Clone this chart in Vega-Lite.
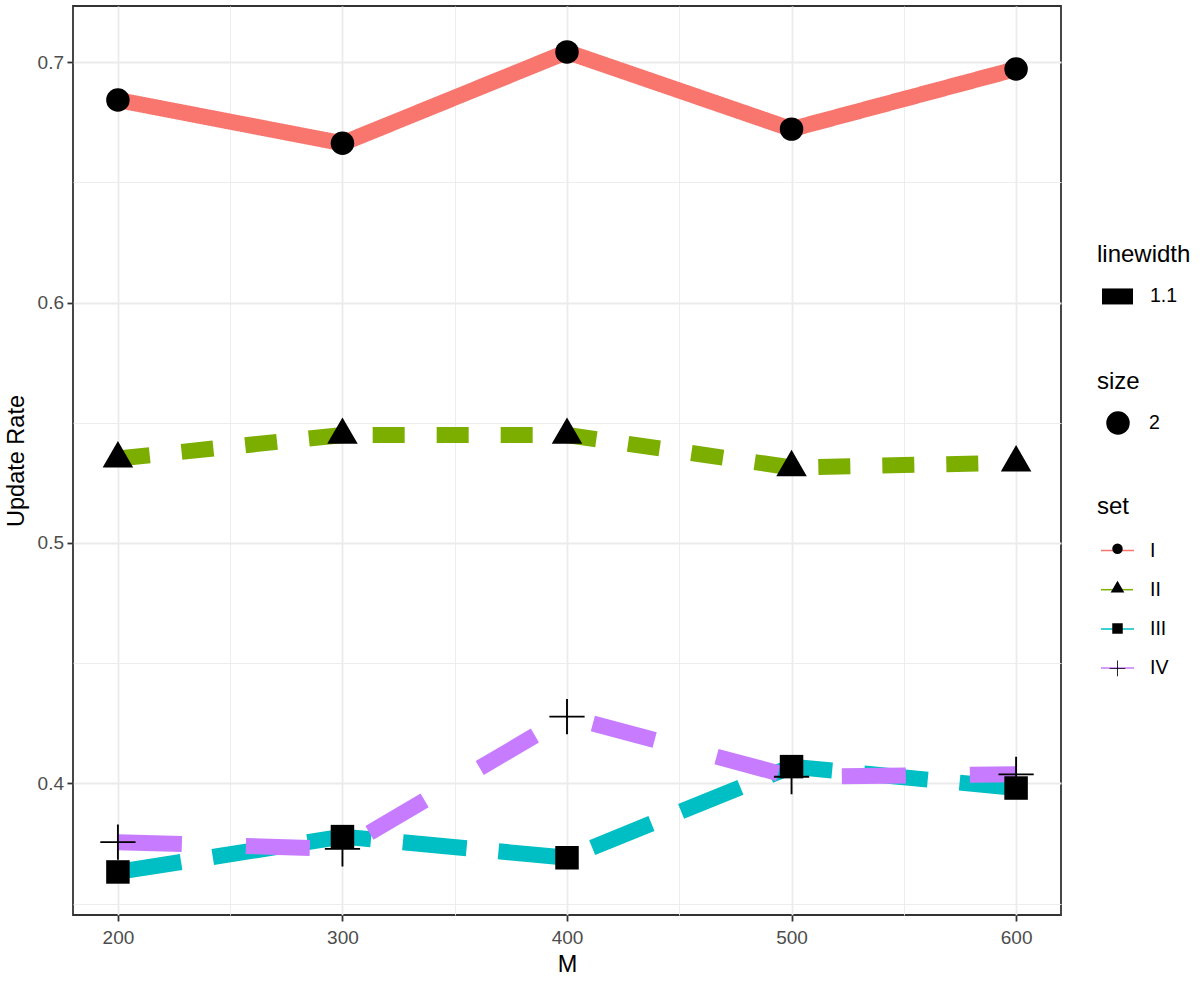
{
  "$schema": "https://vega.github.io/schema/vega-lite/v6.json",
  "width": 988,
  "height": 909,
  "autosize": {"type": "none"},
  "padding": {"left": 73, "top": 6, "right": 139, "bottom": 70},
  "background": "white",
  "config": {
    "font": "Liberation Sans",
    "view": {"stroke": "#333333", "strokeWidth": 1.8},
    "axis": {
      "domain": false,
      "gridColor": "#EBEBEB",
      "tickColor": "#333333",
      "tickWidth": 1.8,
      "tickSize": 6,
      "labelFont": "Liberation Sans",
      "labelFontSize": 19,
      "labelColor": "#4D4D4D",
      "titleFont": "Liberation Sans",
      "titleFontSize": 23.5,
      "titleFontWeight": "normal",
      "titleColor": "black"
    },
    "legend": {
      "labelFont": "Liberation Sans",
      "labelFontSize": 19.5,
      "labelColor": "black",
      "titleFont": "Liberation Sans",
      "titleFontSize": 24,
      "titleFontWeight": "normal",
      "titleColor": "black",
      "padding": 0,
      "symbolBaseStrokeColor": "black",
      "symbolBaseFillColor": "black"
    }
  },
  "data": {
    "values": [
      {"M": 200, "set": "I", "rate": 0.6842},
      {"M": 300, "set": "I", "rate": 0.6662},
      {"M": 400, "set": "I", "rate": 0.7042},
      {"M": 500, "set": "I", "rate": 0.6721},
      {"M": 600, "set": "I", "rate": 0.6971},
      {"M": 200, "set": "II", "rate": 0.5351},
      {"M": 300, "set": "II", "rate": 0.5449},
      {"M": 400, "set": "II", "rate": 0.5449},
      {"M": 500, "set": "II", "rate": 0.5314},
      {"M": 600, "set": "II", "rate": 0.5334},
      {"M": 200, "set": "III", "rate": 0.3632},
      {"M": 300, "set": "III", "rate": 0.3779},
      {"M": 400, "set": "III", "rate": 0.3691},
      {"M": 500, "set": "III", "rate": 0.4070},
      {"M": 600, "set": "III", "rate": 0.3981},
      {"M": 200, "set": "IV", "rate": 0.3756},
      {"M": 300, "set": "IV", "rate": 0.3728},
      {"M": 400, "set": "IV", "rate": 0.4278},
      {"M": 500, "set": "IV", "rate": 0.4028},
      {"M": 600, "set": "IV", "rate": 0.4038}
    ]
  },
  "encoding": {
    "x": {
      "field": "M",
      "type": "quantitative",
      "title": "M",
      "scale": {"domain": [180, 620], "nice": false, "zero": false},
      "axis": {
        "values": [200, 250, 300, 350, 400, 450, 500, 550, 600],
        "labelExpr": "datum.value % 100 === 0 ? datum.label : ''",
        "labelBaseline": "alphabetic",
        "labelPadding": 22,
        "tickOpacity": {"condition": {"test": "datum.value % 100 !== 0", "value": 0}, "value": 1},
        "gridWidth": {"condition": {"test": "datum.value % 100 !== 0", "value": 0.9}, "value": 1.8},
        "titleBaseline": "alphabetic",
        "titleY": 56
      }
    },
    "y": {
      "field": "rate",
      "type": "quantitative",
      "title": "Update Rate",
      "scale": {"domain": [0.3453, 0.7233], "nice": false, "zero": false},
      "axis": {
        "values": [0.35, 0.4, 0.45, 0.5, 0.55, 0.6, 0.65, 0.7],
        "labelExpr": "abs(datum.value*10 - round(datum.value*10)) > 0.01 ? '' : format(datum.value, '.1f')",
        "labelPadding": 3.5,
        "tickOpacity": {"condition": {"test": "abs(datum.value*10 - round(datum.value*10)) > 0.01", "value": 0}, "value": 1},
        "gridWidth": {"condition": {"test": "abs(datum.value*10 - round(datum.value*10)) > 0.01", "value": 0.9}, "value": 1.8},
        "titleBaseline": "alphabetic",
        "titleX": -50
      }
    }
  },
  "layer": [
    {
      "mark": {"type": "line", "strokeCap": "butt", "strokeJoin": "round"},
      "encoding": {
        "color": {
          "field": "set",
          "type": "nominal",
          "scale": {"range": ["#F8766D", "#7CAE00", "#00BFC4", "#C77CFF"]},
          "legend": {
            "title": "set",
            "orient": "none",
            "legendX": 1024,
            "legendY": 488.5,
            "symbolType": "stroke",
            "symbolSize": 1089,
            "symbolStrokeWidth": 1.5,
            "symbolOffset": 3,
            "labelOffset": 15,
            "titlePadding": 14.5,
            "rowPadding": 12.2
          }
        },
        "strokeDash": {
          "field": "set",
          "type": "nominal",
          "scale": {"range": [[1, 0], [32, 32], [64, 32], [64, 64]]}
        },
        "strokeWidth": {
          "datum": "1.1",
          "type": "nominal",
          "scale": {"range": [16, 16]},
          "legend": {
            "title": "linewidth",
            "orient": "none",
            "legendX": 1024,
            "legendY": 236.5,
            "symbolType": "stroke",
            "symbolSize": 961,
            "symbolStrokeColor": "black",
            "symbolOffset": -3,
            "labelOffset": 9,
            "titlePadding": 6.45
          }
        }
      }
    },
    {
      "mark": {"type": "point", "filled": true, "color": "black", "strokeWidth": 0, "opacity": 1},
      "encoding": {
        "shape": {
          "field": "set",
          "type": "nominal",
          "scale": {
            "domain": ["I", "II", "III", "IV"],
            "range": [
              "circle",
              "M0,-1.5L1.3,0.75L-1.3,0.75Z",
              "square",
              "M-1.5,-0.08L-0.08,-0.08L-0.08,-1.5L0.08,-1.5L0.08,-0.08L1.5,-0.08L1.5,0.08L0.08,0.08L0.08,1.5L-0.08,1.5L-0.08,0.08L-1.5,0.08Z"
            ]
          },
          "legend": {
            "title": "set",
            "titleColor": "transparent",
            "labelColor": "transparent",
            "orient": "none",
            "legendX": 1034.75,
            "legendY": 488.5,
            "symbolSize": 110,
            "symbolFillColor": "black",
            "symbolStrokeColor": "black",
            "symbolStrokeWidth": 0,
            "titlePadding": 20.45,
            "rowPadding": 18.9
          }
        },
        "size": {
          "datum": "2",
          "type": "nominal",
          "scale": {"range": [552, 552]},
          "legend": {
            "title": "size",
            "orient": "none",
            "legendX": 1024,
            "legendY": 363.5,
            "symbolFillColor": "black",
            "symbolStrokeColor": "black",
            "symbolStrokeWidth": 0,
            "symbolOffset": 9,
            "labelOffset": 19,
            "titlePadding": 17.45
          }
        }
      }
    }
  ]
}
